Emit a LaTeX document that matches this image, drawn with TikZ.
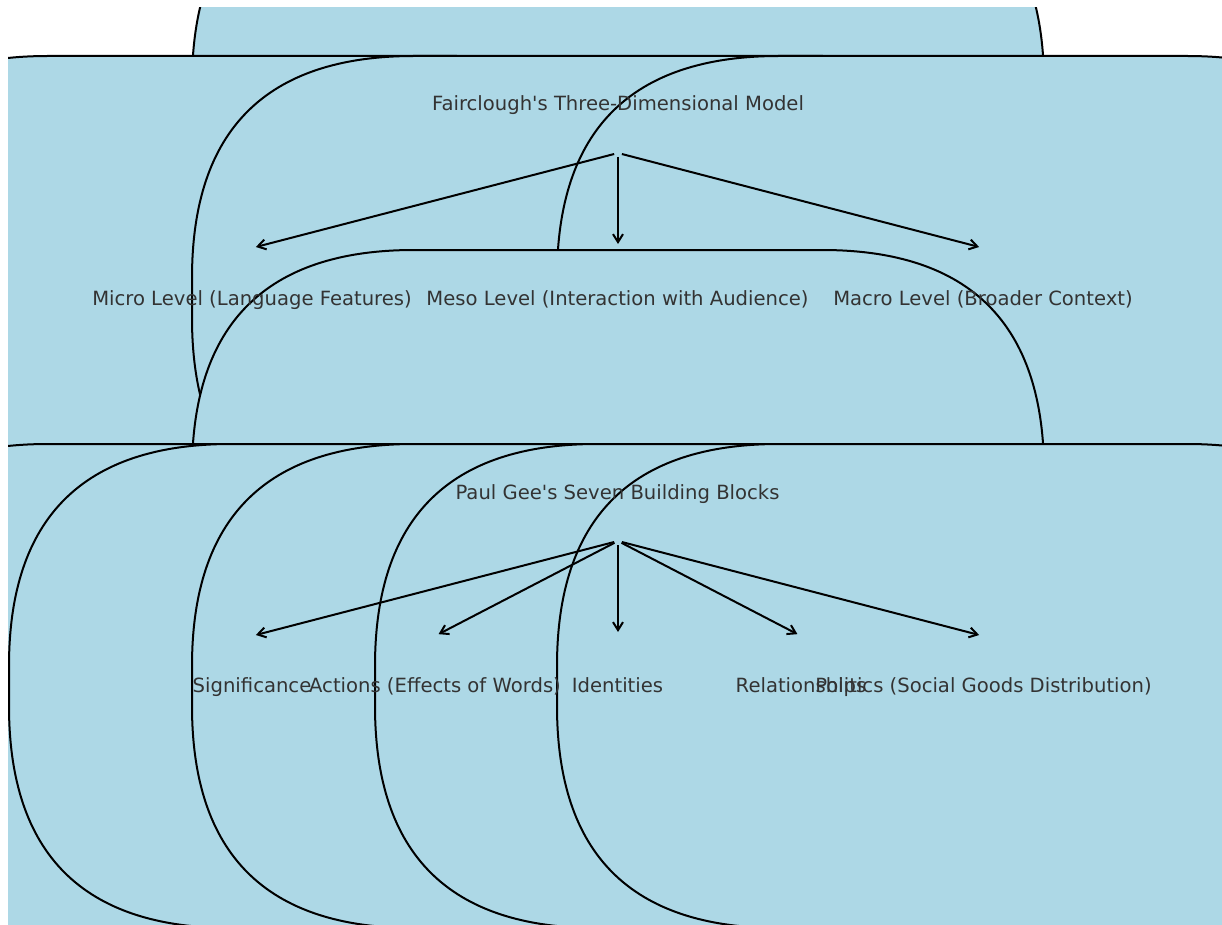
\documentclass[tikz,border=0pt]{standalone}
\usepackage{fontspec}
\setmainfont{DejaVu Sans}
\usetikzlibrary{arrows.meta}
\definecolor{boxblue}{RGB}{173,216,230}
\definecolor{txtgray}{RGB}{51,51,51}
\newcommand{\roundbox}[2]{%
  \pgfmathsetmacro{\bxa}{#1-426}%
  \pgfmathsetmacro{\bxb}{#1+426}%
  \pgfmathsetmacro{\bya}{#2-242}%
  \pgfmathsetmacro{\byb}{#2+242}%
  \def\bdr{222}\def\bdt{74}%
  \path[nodebox] (\bxa+\bdr,\bya) -- (\bxb-\bdr,\bya)
    .. controls (\bxb-\bdt,\bya) and (\bxb,\bya+\bdt) .. (\bxb,\bya+\bdr)
    -- (\bxb,\byb-\bdr)
    .. controls (\bxb,\byb-\bdt) and (\bxb-\bdt,\byb) .. (\bxb-\bdr,\byb)
    -- (\bxa+\bdr,\byb)
    .. controls (\bxa+\bdt,\byb) and (\bxa,\byb-\bdt) .. (\bxa,\byb-\bdr)
    -- (\bxa,\bya+\bdr)
    .. controls (\bxa,\bya+\bdt) and (\bxa+\bdt,\bya) .. cycle;%
}
\begin{document}
\begin{tikzpicture}[x=1pt,y=-1pt,
  nodebox/.style={fill=boxblue,draw=black,line width=2pt,line join=round},
  lbl/.style={anchor=base,inner sep=0pt,text=txtgray,font=\fontsize{19.6}{23}\selectfont},
  conn/.style={-{Straight Barb[length=8pt,width=10pt]},line width=2pt,shorten <=4pt,shorten >=4pt}]
\useasboundingbox (0,0) rectangle (1222,925);
\fill[white] (0,0) rectangle (1222,925);
\begin{scope}
  \clip (8,8) rectangle (1222,925);
  \roundbox{618}{104}
  \roundbox{252}{298}
  \roundbox{618}{298}
  \roundbox{983}{298}
  \roundbox{618}{492}
  \roundbox{252}{686}
  \roundbox{435}{686}
  \roundbox{618}{686}
  \roundbox{801}{686}
  \roundbox{983}{686}
\end{scope}
% labels
\node[lbl] (fair) at (618,111) {Fairclough\textquotesingle s Three-Dimensional Model};
\node[lbl] (micro) at (252,305) {Micro Level (Language Features)};
\node[lbl] (meso) at (617.5,305) {Meso Level (Interaction with Audience)};
\node[lbl] (macro) at (983,305) {Macro Level (Broader Context)};
\node[lbl] (gee) at (617.5,499) {Paul Gee\textquotesingle s Seven Building Blocks};
\node[lbl] (sig) at (252,692) {Significance};
\node[lbl] (act) at (435,692) {Actions (Effects of Words)};
\node[lbl] (ide) at (617.5,692) {Identities};
\node[lbl] (rel) at (801,692) {Relationships};
\node[lbl] (pol) at (983.5,692) {Politics (Social Goods Distribution)};
% connector ends
\coordinate (fair-s) at (618,153);
\coordinate (micro-n) at (252,248);
\coordinate (meso-n) at (618,248);
\coordinate (macro-n) at (983,248);
\coordinate (gee-s) at (618,541);
\coordinate (sig-n) at (252,636);
\coordinate (act-n) at (435,636);
\coordinate (ide-n) at (618,636);
\coordinate (rel-n) at (801,636);
\coordinate (pol-n) at (983,636);
\draw[conn] (fair-s) -- (micro-n);
\draw[conn] (fair-s) -- (meso-n);
\draw[conn] (fair-s) -- (macro-n);
\draw[conn] (gee-s) -- (sig-n);
\draw[conn] (gee-s) -- (act-n);
\draw[conn] (gee-s) -- (ide-n);
\draw[conn] (gee-s) -- (rel-n);
\draw[conn] (gee-s) -- (pol-n);
\end{tikzpicture}
\end{document}
